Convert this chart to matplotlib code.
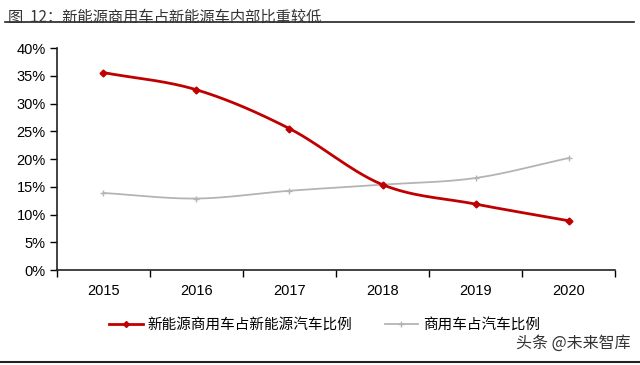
import numpy as np
import matplotlib.pyplot as plt
from matplotlib.lines import Line2D

plt.rcParams['font.family'] = ['Noto Sans CJK SC', 'DejaVu Sans']

years = ['2015', '2016', '2017', '2018', '2019', '2020']
nev_commercial_share = [35.6, 32.5, 25.5, 15.4, 11.9, 8.9]   # 新能源商用车占新能源汽车比例
commercial_share = [13.9, 12.9, 14.3, 15.4, 16.6, 20.2]     # 商用车占汽车比例
y_ticks = [0, 5, 10, 15, 20, 25, 30, 35, 40]


def smooth(x, y, n=30):
    # Catmull-Rom curve through the points, like Excel's smoothed line
    x = np.asarray(x, float)
    y = np.asarray(y, float)
    px = np.concatenate([[2 * x[0] - x[1]], x, [2 * x[-1] - x[-2]]])
    py = np.concatenate([[2 * y[0] - y[1]], y, [2 * y[-1] - y[-2]]])
    xs, ys = [], []
    t = np.linspace(0, 1, n)
    for i in range(1, len(px) - 2):
        for p, out in ((px, xs), (py, ys)):
            p0, p1, p2, p3 = p[i - 1], p[i], p[i + 1], p[i + 2]
            out.extend(0.5 * ((2 * p1) + (-p0 + p2) * t
                              + (2 * p0 - 5 * p1 + 4 * p2 - p3) * t ** 2
                              + (-p0 + 3 * p1 - 3 * p2 + p3) * t ** 3))
    return xs, ys


red = '#c00000'
gray = '#b4b4b4'

fig = plt.figure(figsize=(6.4, 3.65), dpi=100)
ax = fig.add_axes([0.089, 0.26, 0.872, 0.608])

x = np.arange(len(years))
sx, sy = smooth(x, commercial_share)
ax.plot(sx, sy, color=gray, lw=1.3)
ax.plot(x, commercial_share, ls='none', marker='+', ms=4, mew=1, color=gray)
sx, sy = smooth(x, nev_commercial_share)
ax.plot(sx, sy, color=red, lw=2)
ax.plot(x, nev_commercial_share, ls='none', marker='D', ms=3.5, color=red)

ax.set_xlim(-0.5, len(years) - 0.5)
ax.set_ylim(0, 40)
ax.set_yticks(y_ticks)
ax.set_yticklabels([f'{v}%' for v in y_ticks], fontsize=10.5, family='Liberation Sans')
ax.set_xticks(x)
ax.set_xticklabels(years, fontsize=10.5, family='Liberation Sans')
ax.set_xticks(np.arange(-0.5, len(years)), minor=True)
ax.tick_params(axis='x', which='major', length=0, pad=10)
ax.tick_params(axis='x', which='minor', length=5, direction='out', width=1)
ax.tick_params(axis='y', length=5, direction='out', width=1, pad=3)
for s in ['top', 'right']:
    ax.spines[s].set_visible(False)
for s in ['left', 'bottom']:
    ax.spines[s].set_linewidth(1.2)
    ax.spines[s].set_color('#222222')

handles = [Line2D([], [], color=red, lw=2, marker='D', ms=3),
           Line2D([], [], color=gray, lw=1.3, marker='+', ms=4)]
fig.legend(handles, ['新能源商用车占新能源汽车比例', '商用车占汽车比例'],
           loc='center left', bbox_to_anchor=(0.15, 0.11), ncol=2, frameon=False,
           fontsize=10.5, handlelength=2.3, columnspacing=2.2, handletextpad=0.35)

fig.text(0.012, 0.975, '图  12：新能源商用车占新能源车内部比重较低', fontsize=11,
         va='top', ha='left', color='#333333')
fig.add_artist(Line2D([0.008, 0.99], [0.94, 0.94], color='#222222', lw=1.2))
fig.add_artist(Line2D([0.0, 1.0], [0.008, 0.008], color='#222222', lw=1.5))
fig.text(0.985, 0.06, '头条 @未来智库', fontsize=11.5, ha='right', va='center', color='#333333')

fig.savefig('out.png', dpi=100)
